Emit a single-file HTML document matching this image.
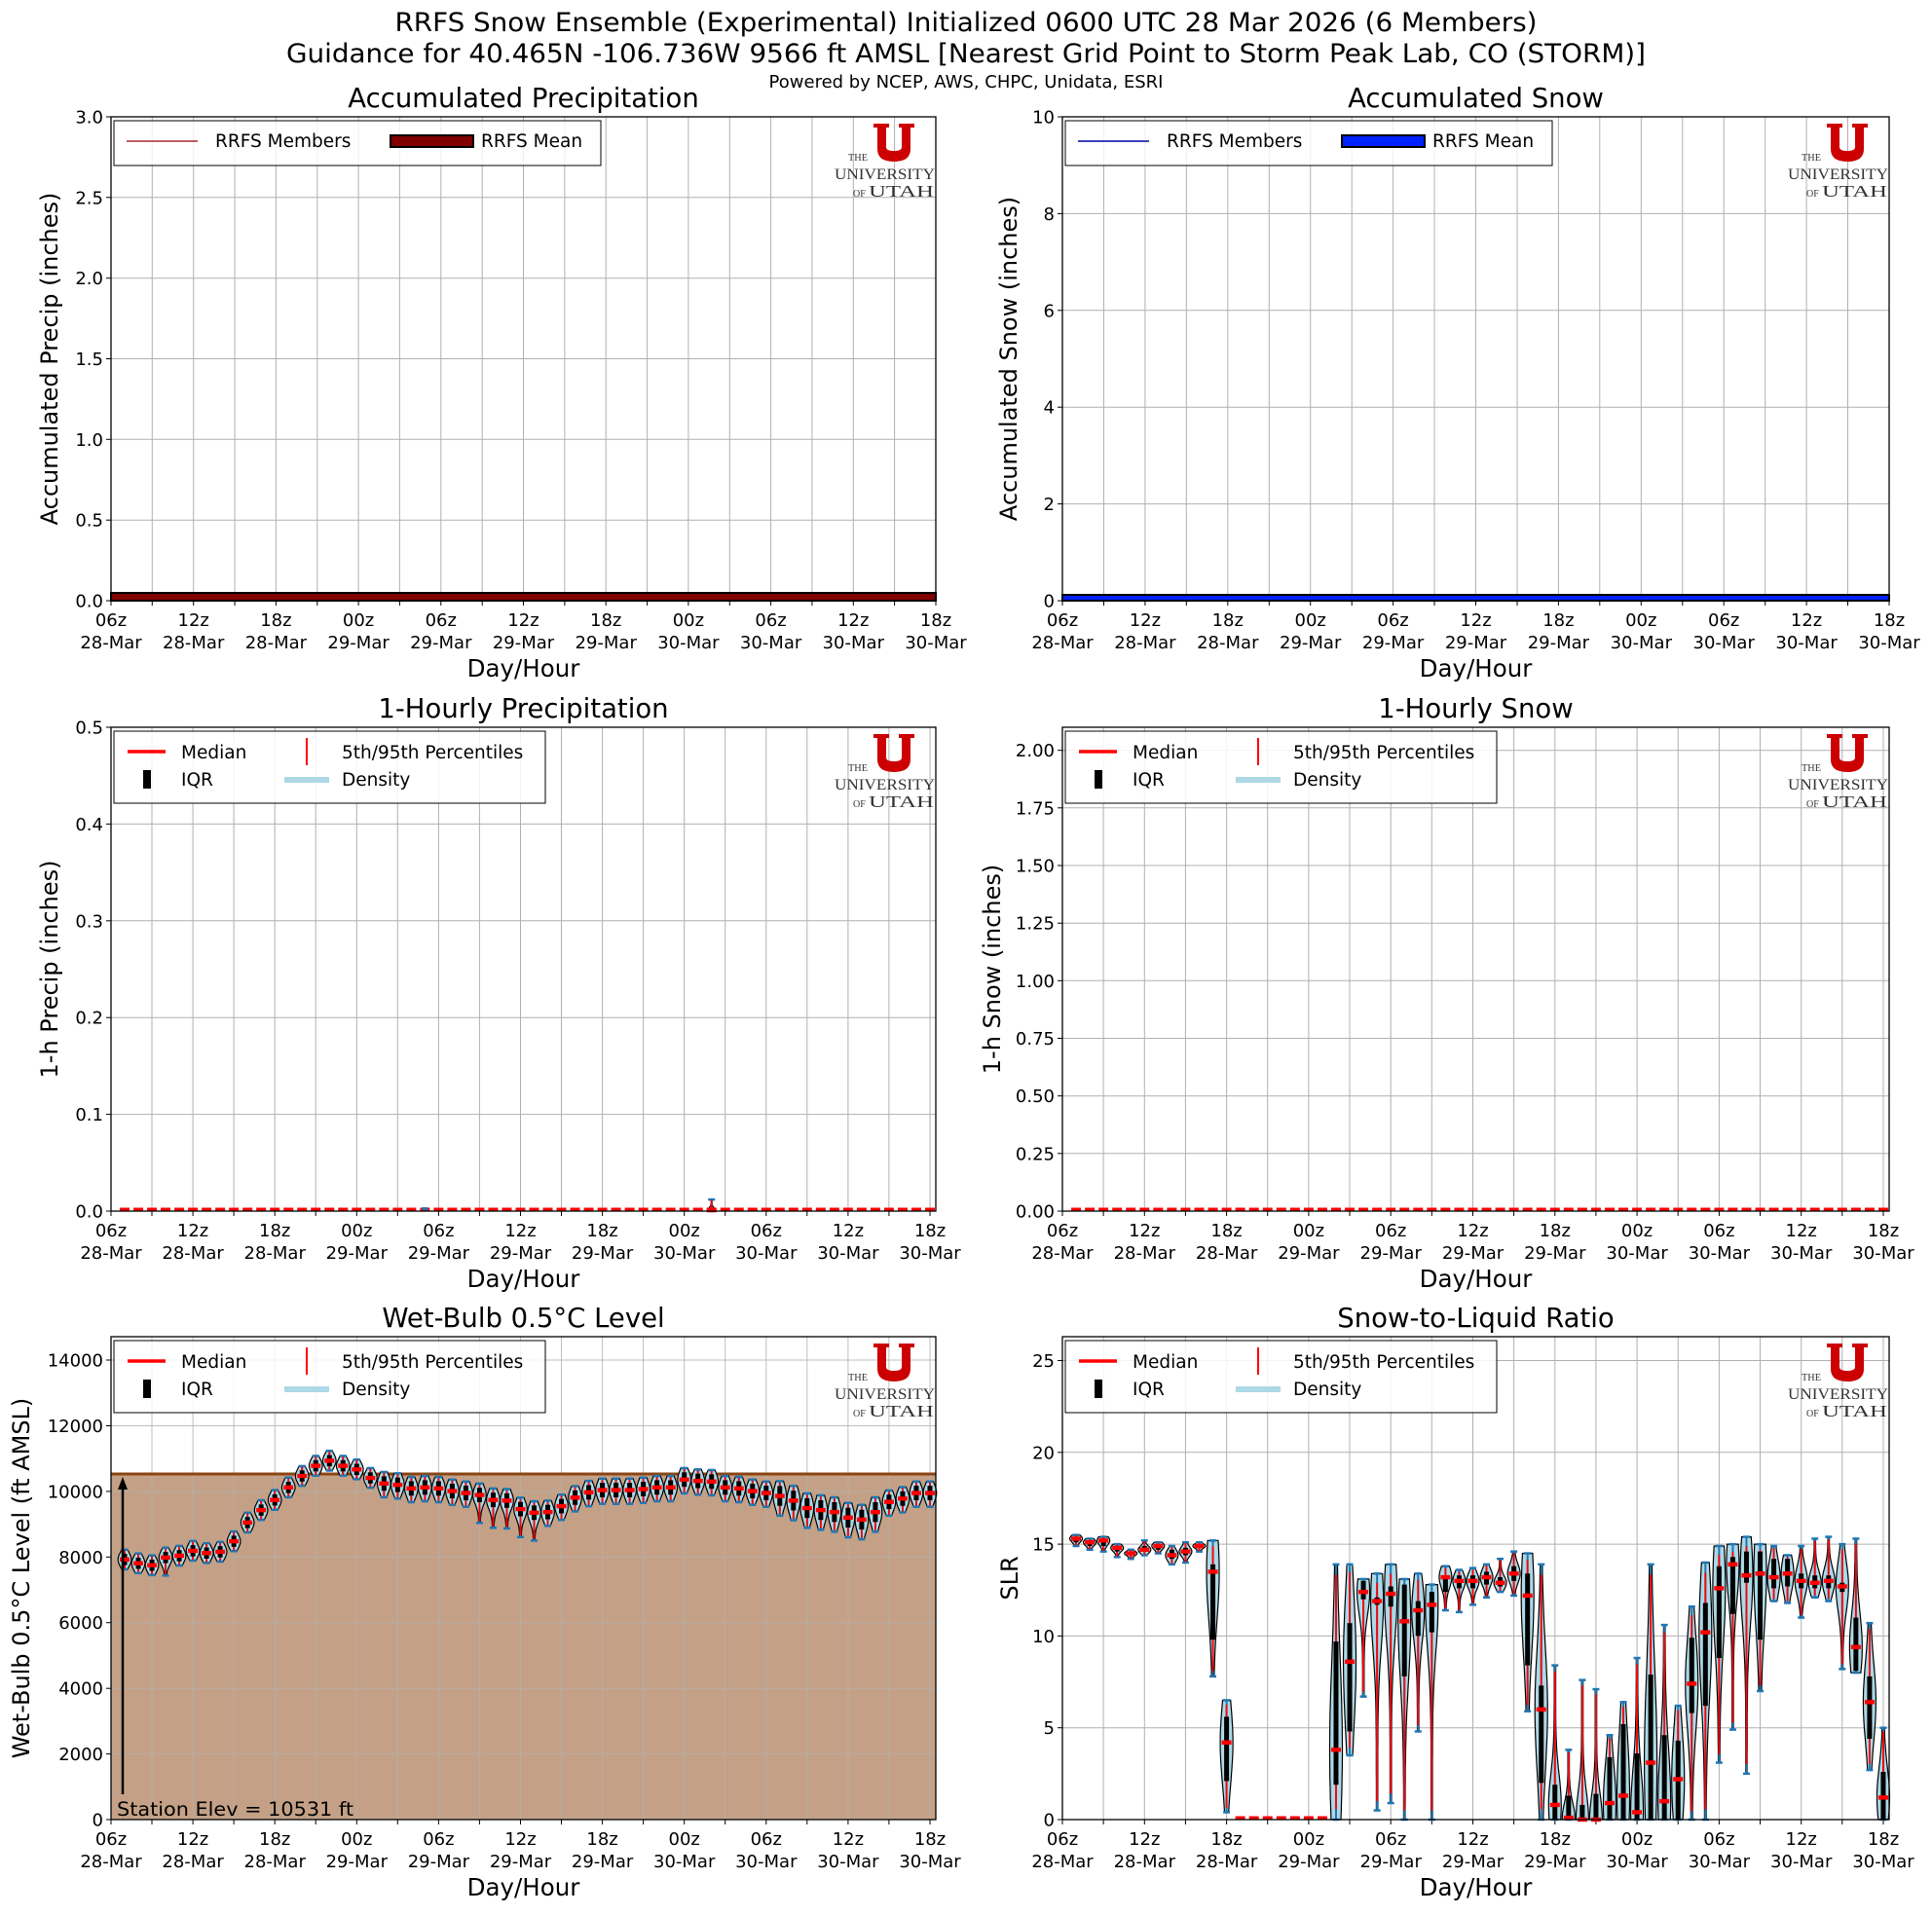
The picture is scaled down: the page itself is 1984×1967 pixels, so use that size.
<!DOCTYPE html>
<html><head><meta charset="utf-8"><style>
html,body{margin:0;padding:0;background:#fff;}
svg text{font-family:"DejaVu Sans","Liberation Sans",sans-serif;}
</style></head><body>
<svg id="s" xmlns="http://www.w3.org/2000/svg" width="1984" height="1962" viewBox="0 0 1984 1962">
<rect width="1984" height="1962" fill="#fff"/>
<text x="992" y="32" font-size="27" text-anchor="middle" textLength="1173" lengthAdjust="spacingAndGlyphs">RRFS Snow Ensemble (Experimental) Initialized 0600 UTC 28 Mar 2026 (6 Members)</text>
<text x="992" y="64" font-size="27" text-anchor="middle" textLength="1396" lengthAdjust="spacingAndGlyphs">Guidance for 40.465N -106.736W 9566 ft AMSL [Nearest Grid Point to Storm Peak Lab, CO (STORM)]</text>
<text x="992" y="90" font-size="18" text-anchor="middle">Powered by NCEP, AWS, CHPC, Unidata, ESRI</text>
</svg>
<script>
(function(){
var S=document.getElementById('s'),out='';
function a(t){out+=t;}
var P=[
{x0:114,x1:961,y0:120,y1:617,xmax:60,ymax:3,step:0.5,dec:1,title:'Accumulated Precipitation',yl:'Accumulated Precip (inches)',ylx:51,k:'acc',c:'#800000',lc:'#a52a2a',leg:['RRFS Members','RRFS Mean']},
{x0:1091,x1:1940,y0:120,y1:617,xmax:60,ymax:10,step:2,dec:0,title:'Accumulated Snow',yl:'Accumulated Snow (inches)',ylx:1036,k:'acc',c:'#0022ff',lc:'#0000aa',leg:['RRFS Members','RRFS Mean']},
{x0:114,x1:961,y0:747,y1:1244,xmax:60.43,ymax:0.5,step:0.1,dec:1,title:'1-Hourly Precipitation',yl:'1-h Precip (inches)',ylx:51,k:'hp'},
{x0:1091,x1:1940,y0:747,y1:1244,xmax:60.43,ymax:2.1,step:0.25,dec:2,title:'1-Hourly Snow',yl:'1-h Snow (inches)',ylx:1019,k:'hs'},
{x0:114,x1:961,y0:1373,y1:1869,xmax:60.43,ymax:14713,step:2000,dec:0,title:'Wet-Bulb 0.5°C Level',yl:'Wet-Bulb 0.5°C Level (ft AMSL)',ylx:22,k:'wb'},
{x0:1091,x1:1940,y0:1373,y1:1869,xmax:60.43,ymax:26.3,step:5,dec:0,title:'Snow-to-Liquid Ratio',yl:'SLR',ylx:1037,k:'slr'}
];
var hrs=['06z','12z','18z','00z','06z','12z','18z','00z','06z','12z','18z'];
var days=['28-Mar','28-Mar','28-Mar','29-Mar','29-Mar','29-Mar','29-Mar','30-Mar','30-Mar','30-Mar','30-Mar'];
function violin(p,X,Y,mn,q1,md,q3,mx,hw){
  var span=mx-mn; var pts=[],pts2=[];
  if(span<=0){span=1e-9;}
  var N=24,sig=Math.max((q3-q1)*0.9,span*0.28);
  for(var i=0;i<=N;i++){var v=mn+span*i/N;var f=Math.exp(-Math.pow((v-md)/sig,2));f=0.12+0.88*f;
   pts.push((X(0)+hw*f).toFixed(1)+','+Y(v).toFixed(1));pts2.unshift((X(0)-hw*f).toFixed(1)+','+Y(v).toFixed(1));}
  a('<polygon points="'+pts.concat(pts2).join(' ')+'" fill="#add8e6" stroke="#000" stroke-width="1.2"/>');
  var cx=X(0);
  a('<line x1="'+cx+'" x2="'+cx+'" y1="'+Y(mn)+'" y2="'+Y(mx)+'" stroke="#1f77b4" stroke-width="2"/>');
  a('<line x1="'+(cx-3.5)+'" x2="'+(cx+3.5)+'" y1="'+Y(mn)+'" y2="'+Y(mn)+'" stroke="#1f77b4" stroke-width="2.5"/>');
  a('<line x1="'+(cx-3.5)+'" x2="'+(cx+3.5)+'" y1="'+Y(mx)+'" y2="'+Y(mx)+'" stroke="#1f77b4" stroke-width="2.5"/>');
  var p5=mn+span*0.04,p95=mx-span*0.04;
  a('<line x1="'+cx+'" x2="'+cx+'" y1="'+Y(p5)+'" y2="'+Y(p95)+'" stroke="#f00" stroke-width="1.8"/>');
  if(Y(q1)-Y(q3)>0.5)a('<rect x="'+(cx-2.5)+'" y="'+Y(q3)+'" width="5" height="'+(Y(q1)-Y(q3))+'" fill="#000"/>');
  a('<rect x="'+(cx-5)+'" y="'+(Y(md)-2.2)+'" width="10" height="4.4" fill="#f00"/>');
}
function logo(x,y){
  var sf='style="font-family:\'Liberation Serif\',serif"';
  a('<g transform="translate('+x+','+y+')"><path d="M0,0 H16 V4 H13 V24 Q13,28 21,28 Q29,28 29,24 V4 H26 V0 H42 V4 H38 V26 Q38,39 21,39 Q4,39 4,26 V4 H0 Z" fill="#cc0000"/>'+
  '<text x="-26" y="38" font-size="10" textLength="20" lengthAdjust="spacingAndGlyphs" fill="#333" '+sf+'>THE</text>'+
  '<text x="-40" y="57" font-size="16" textLength="103" lengthAdjust="spacingAndGlyphs" fill="#333" '+sf+'>UNIVERSITY</text>'+
  '<text x="-21" y="75" font-size="10" fill="#333" '+sf+'>OF</text>'+
  '<text x="-5" y="75" font-size="17" textLength="67" lengthAdjust="spacingAndGlyphs" fill="#333" '+sf+'>UTAH</text></g>');
}
var wbm=[7925,7810,7750,7985,8040,8190,8120,8160,8480,9050,9430,9740,10120,10470,10780,10935,10780,10670,10410,10240,10200,10090,10120,10090,10010,9950,9890,9740,9720,9460,9350,9370,9550,9810,9970,10040,10040,10040,10070,10120,10120,10360,10320,10300,10120,10090,10010,9950,9860,9720,9490,9430,9370,9200,9140,9370,9680,9780,9950,9950];
var slr=[[14.9,15.1,15.3,15.4,15.5],[14.7,14.9,15.1,15.2,15.3],[14.6,14.9,15.2,15.3,15.4],[14.3,14.6,14.8,14.9,15.0],[14.2,14.4,14.5,14.6,14.7],[14.4,14.6,14.7,14.9,15.2],[14.5,14.7,14.9,15.0,15.1],[13.9,14.2,14.4,14.7,14.9],[14.0,14.4,14.6,14.8,15.1],[14.6,14.8,14.9,15.0,15.1],
[7.8,9.8,13.5,13.9,15.2],[0.4,2.1,4.2,5.6,6.5],[0,0,0,0,0],[0,0,0,0,0],[0,0,0,0,0],[0,0,0,0,0],[0,0,0,0,0],[0,0,0,0,0],[0,0,0,0,0],
[0,1.9,3.8,9.7,13.9],[3.5,4.8,8.6,10.7,13.9],[6.7,12,12.4,13,13.1],[0.5,11.7,11.9,12.1,13.4],[0.9,11.6,12.3,12.7,13.9],[0,7.8,10.8,12.8,13.1],[4.8,10,11.4,11.9,13.4],[0,10.2,11.7,12.4,12.8],[11.4,12.4,13.2,13.3,13.8],[11.3,12.6,13,13.3,13.6],[11.7,12.6,13,13.3,13.7],
[12.1,12.8,13.2,13.5,13.9],[12.4,12.7,12.9,13.2,14.2],[12.2,13.0,13.4,13.8,14.6],[5.9,8.4,12.2,13.4,14.5],[0,2,6,7.3,13.9],[0,0,0.8,1.9,8.4],[0,0,0.1,1.3,3.8],[0,0,0,0.8,7.6],[0,0,0,1.4,7.1],[0,0,0.9,3.4,4.6],
[0,0,1.3,5.2,6.4],[0,0,0.4,3.6,8.8],[0,0,3.1,7.9,13.9],[0,0,1,4.6,10.6],[0,0,2.2,4.3,6.2],[0,5.8,7.4,9.9,11.6],[0,6.2,10.2,11.8,14],[3.1,8.8,12.6,13.8,14.9],[4.9,11.2,13.9,14.3,15],[2.5,12.9,13.3,14.6,15.4],
[7,9.8,13.4,14.6,15],[11.9,12.6,13.2,14.2,14.9],[11.8,12.7,13.4,14.2,14.4],[11,12.6,13,13.4,14.9],[12.1,12.6,12.9,13.3,15.3],[11.9,12.6,13,13.3,15.4],[8.2,12.4,12.7,12.9,15],[8,8.1,9.4,11,15.3],[2.7,4.4,6.4,7.8,10.7],[0,0,1.2,2.6,5]];
P.forEach(function(p,pi){
  var W=p.x1-p.x0,H=p.y1-p.y0;
  function X(h){return p.x0+h/p.xmax*W;}
  function Y(v){return p.y1-v/p.ymax*H;}
  a('<text x="'+((p.x0+p.x1)/2)+'" y="'+(p.y0-10)+'" font-size="27.5" text-anchor="middle">'+p.title+'</text>');
  var yc=(p.y0+p.y1)/2;
  a('<text transform="translate('+p.ylx+','+yc+') rotate(-90)" x="0" y="0" font-size="24" text-anchor="middle" dominant-baseline="central">'+p.yl+'</text>');
  if(p.k=='wb'){a('<rect x="'+p.x0+'" y="'+Y(10531)+'" width="'+W+'" height="'+(p.y1-Y(10531))+'" fill="#c4a186"/>');}
  var gop=p.k=='wb'?0.8:1;
  for(var h=0;h<=60;h+=3){var gx=X(h).toFixed(1);if(h==0||X(h)>=p.x1-0.5)continue;a('<line x1="'+gx+'" x2="'+gx+'" y1="'+p.y0+'" y2="'+p.y1+'" stroke="#b0b0b0" stroke-width="1" opacity="'+gop+'"/>');}
  for(var v=0;v<=p.ymax+1e-9;v+=p.step){var gy=Y(v).toFixed(1);
    if(v>0)a('<line x1="'+p.x0+'" x2="'+p.x1+'" y1="'+gy+'" y2="'+gy+'" stroke="#b0b0b0" stroke-width="1" opacity="'+gop+'"/>');
    a('<line x1="'+(p.x0-5)+'" x2="'+p.x0+'" y1="'+gy+'" y2="'+gy+'" stroke="#000" stroke-width="1"/>');
    a('<text x="'+(p.x0-8)+'" y="'+(Y(v)+6.5)+'" font-size="18" text-anchor="end">'+v.toFixed(p.dec)+'</text>');}
  for(var h=0;h<=60;h+=3){var tx=X(h).toFixed(1);a('<line x1="'+tx+'" x2="'+tx+'" y1="'+p.y1+'" y2="'+(p.y1+5)+'" stroke="#000" stroke-width="1"/>');
    if(h%6==0){var i=h/6;a('<text x="'+tx+'" y="'+(p.y1+26)+'" font-size="18" text-anchor="middle">'+hrs[i]+'</text><text x="'+tx+'" y="'+(p.y1+49)+'" font-size="18" text-anchor="middle">'+days[i]+'</text>');}}
  a('<text x="'+((p.x0+p.x1)/2)+'" y="'+(p.y1+78)+'" font-size="24.5" text-anchor="middle">Day/Hour</text>');
  if(p.k=='acc'){
    var bh=pi==0?8:6;
    a('<rect x="'+p.x0+'" y="'+(p.y1-bh)+'" width="'+W+'" height="'+bh+'" fill="'+p.c+'" stroke="#000" stroke-width="2"/>');
  } else if(p.k=='hp'||p.k=='hs'){
    for(var h=1;h<=60;h++){
      var cx=X(h);
      if(p.k=='hp'&&h==44){var X2=function(){return cx;};violin(p,X2,Y,0,0,0.001,0.002,0.012,4);}
      a('<rect x="'+(cx-5)+'" y="'+(p.y1-3.5)+'" width="10" height="3.5" fill="#f00"/>');
    }
    if(p.k=='hp'){a('<rect x="'+(X(23)-3)+'" y="'+(p.y1-4)+'" width="6" height="3" fill="#1f77b4"/>');}
  } else if(p.k=='wb'){
    a('<line x1="'+p.x0+'" x2="'+p.x1+'" y1="'+Y(10531)+'" y2="'+Y(10531)+'" stroke="#8b4513" stroke-width="3"/>');
    for(var h=1;h<=60;h++){
      var m=wbm[h-1],lo=300,hi=300,iq=170;
      if(h>=20&&h<=60){lo=420;hi=350;iq=220;}
      if(h>=27&&h<=31){lo=850;}
      if(h>=49&&h<=56){lo=600;hi=450;iq=300;}
      if(h==4){lo=550;}
      var cx=X(h);var X2=(function(c){return function(){return c;};})(cx);
      violin(p,X2,Y,m-lo,m-iq,m,m+iq,m+hi,6.8);
    }
    var ax=126;
    a('<line x1="'+ax+'" x2="'+ax+'" y1="1843" y2="1526" stroke="#000" stroke-width="2.5"/><polygon points="'+(ax-5)+',1530 '+(ax+5)+',1530 '+ax+',1517" fill="#000"/>');
    a('<text x="120" y="1865" font-size="19.5" textLength="243" lengthAdjust="spacingAndGlyphs">Station Elev = 10531 ft</text>');
  } else if(p.k=='slr'){
    for(var h=1;h<=60;h++){var d=slr[h-1];var cx=X(h);var X2=(function(c){return function(){return c;};})(cx);
      if(d[4]-d[0]<0.01){a('<rect x="'+(cx-5)+'" y="'+(p.y1-3.5)+'" width="10" height="3.5" fill="#f00"/>');continue;}
      violin(p,X2,Y,d[0],d[1],d[2],d[3],d[4],6.5);}
  }
  a('<rect x="'+p.x0+'" y="'+p.y0+'" width="'+W+'" height="'+H+'" fill="none" stroke="#000" stroke-width="1.3"/>');
  var lx=p.x0+3,ly=p.y0+4;
  if(p.k=='acc'){
    a('<rect x="'+lx+'" y="'+ly+'" width="500" height="46" fill="#fff" fill-opacity="0.8" stroke="#000" stroke-width="1"/>');
    a('<line x1="'+(lx+13)+'" x2="'+(lx+86)+'" y1="'+(ly+21)+'" y2="'+(ly+21)+'" stroke="'+p.lc+'" stroke-width="1.5"/>');
    a('<text x="'+(lx+104)+'" y="'+(ly+27)+'" font-size="18.5">'+p.leg[0]+'</text>');
    a('<rect x="'+(lx+284)+'" y="'+(ly+15)+'" width="85" height="12" fill="'+p.c+'" stroke="#000" stroke-width="2"/>');
    a('<text x="'+(lx+377)+'" y="'+(ly+27)+'" font-size="18.5">'+p.leg[1]+'</text>');
  } else {
    a('<rect x="'+lx+'" y="'+ly+'" width="443" height="74" fill="#fff" fill-opacity="0.85" stroke="#000" stroke-width="1"/>');
    a('<line x1="'+(lx+14)+'" x2="'+(lx+53)+'" y1="'+(ly+21)+'" y2="'+(ly+21)+'" stroke="#f00" stroke-width="3.5"/>');
    a('<text x="'+(lx+69)+'" y="'+(ly+28)+'" font-size="18.5">Median</text>');
    a('<line x1="'+(lx+198)+'" x2="'+(lx+198)+'" y1="'+(ly+7)+'" y2="'+(ly+35)+'" stroke="#f00" stroke-width="2"/>');
    a('<text x="'+(lx+234)+'" y="'+(ly+28)+'" font-size="18.5">5th/95th Percentiles</text>');
    a('<rect x="'+(lx+30)+'" y="'+(ly+40)+'" width="8" height="19" fill="#000"/>');
    a('<text x="'+(lx+69)+'" y="'+(ly+56)+'" font-size="18.5">IQR</text>');
    a('<line x1="'+(lx+175)+'" x2="'+(lx+221)+'" y1="'+(ly+50)+'" y2="'+(ly+50)+'" stroke="#add8e6" stroke-width="6"/>');
    a('<text x="'+(lx+234)+'" y="'+(ly+56)+'" font-size="18.5">Density</text>');
  }
  logo(p.x1-64,p.y0+7);
});
S.insertAdjacentHTML('beforeend',out);
})();
</script>
</body></html>
